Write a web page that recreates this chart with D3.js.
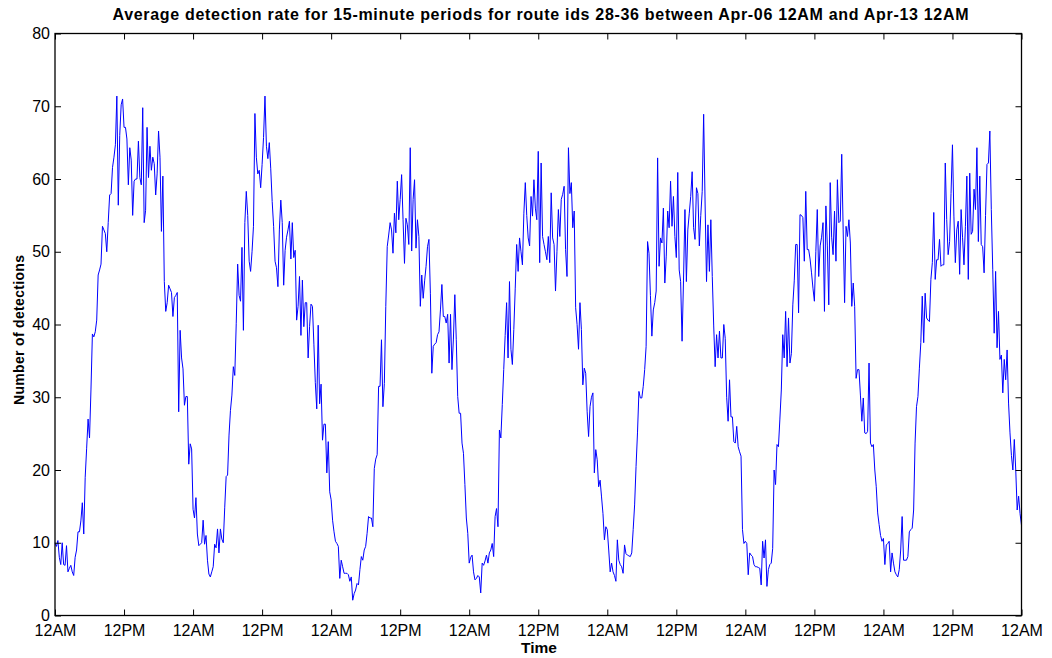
<!DOCTYPE html>
<html>
<head>
<meta charset="utf-8">
<script src="https://cdn.jsdelivr.net/npm/d3@7"></script>
<style>
  html, body { margin: 0; padding: 0; background: #fff; }
  svg { display: block; font-family: "Liberation Sans", Arial, Helvetica, sans-serif; }
</style>
</head>
<body>
<svg id="chart" width="1052" height="658"></svg>
<script>
// ---- Data: average detections per 15-minute period (96 per day) ----
const titleText = "Average detection rate for 15-minute periods for route ids 28-36 between Apr-06 12AM and Apr-13 12AM";
const xLabel = "Time";
const yLabel = "Number of detections";
const xTickHours = [0, 12, 24, 36, 48, 60, 72, 84, 96, 108, 120, 132, 144, 156, 168];
const xTickNames = ["12AM", "12PM"];
const yTicks = [0, 10, 20, 30, 40, 50, 60, 70, 80];

const day1 = [10, 9.5, 10.3, 8, 7, 10, 7, 6.9, 9.6, 6, 6.5, 6.9, 6, 5.5, 8, 9,
  11.5, 11.5, 13, 15.5, 11.2, 19, 23, 27, 24.4, 31, 38.7, 38.3, 39, 40.6, 46.8, 47.5,
  48.3, 53.5, 53, 52.5, 50, 54, 57.8, 58, 61.6, 63, 64.7, 71.4, 56.4, 66, 70.2, 71,
  67.1, 67.1, 65.5, 59.2, 64.3, 62.6, 55, 59.7, 60, 60, 65.2, 60.2, 59.2, 69.8, 54, 55.7,
  67.1, 60.2, 64.5, 61.2, 63, 62.1, 57.8, 60.7, 66.6, 63, 52.8, 60.4, 45.9, 41.8, 43, 45.4,
  44.9, 44.4, 41.1, 43.7, 44, 44.4, 28, 39.2, 35.4, 33.9, 28.9, 30.1, 30.1, 20.8, 23.6, 22.9];
const day2 = [14.6, 13.4, 16.2, 11.2, 9.6, 9.8, 10, 13.1, 9.8, 11, 7.6, 5.7, 5.3, 6, 6.7, 9.8,
  9.3, 11.9, 8.6, 11.9, 10.5, 10, 14.8, 19.1, 19.3, 24.8, 28.2, 30.3, 34.2, 33, 40.1, 48.3,
  44, 43.2, 50.6, 39.2, 54, 58.3, 55, 48.7, 47.3, 50, 53.5, 69, 63, 60.7, 61.2, 58.8,
  62, 65.7, 71.4, 64.5, 62.8, 65, 61.4, 56.9, 53.5, 48.7, 47.8, 45.2, 53, 57.1, 54, 45.4,
  50.2, 52, 53, 54.2, 49, 54, 49.2, 50.2, 40.6, 42.5, 46.6, 38.5, 46.1, 39.7, 43, 43,
  35.4, 39.7, 42.8, 42.5, 37.3, 32, 28.4, 39.9, 29.1, 31.8, 24.1, 26.3, 26.3, 19.6, 23.9, 17];
const day3 = [15.9, 13.1, 11.5, 10.2, 9.9, 9.5, 5.1, 7.6, 6.7, 5.8, 5.8, 5.8, 5.6, 4.7, 5.3, 2.1,
  3, 3.5, 4.4, 4.2, 6.3, 8.1, 7.6, 9, 9.5, 11.3, 13.6, 13.4, 13.4, 12.2, 20.2, 21.5,
  22.1, 31.5, 31.5, 37.9, 28.7, 31.9, 42.5, 50.7, 52.3, 54, 53, 49.8, 55.3, 52.6, 59.7, 54.4,
  57.2, 60.6, 54.4, 48.4, 54.6, 53.7, 51, 64.3, 50.1, 57.2, 59.9, 50.5, 54.4, 52.1, 42.5, 46.8,
  43.6, 46, 48, 50.7, 51.7, 44.3, 33.3, 37, 37.3, 37.5, 38.6, 39, 42, 45.5, 41.1, 41.1,
  40.2, 41.4, 34.7, 41.4, 33.8, 38, 44.1, 37.9, 30.1, 27.8, 27.8, 23.7, 22.3, 18, 13.4, 11.3];
const day4 = [7.2, 8, 8.3, 6, 4.9, 5.1, 5.5, 5.3, 3.1, 7.2, 6.9, 7.5, 8.3, 7.2, 8.6, 9,
  9.9, 8.1, 13.6, 14.7, 12.2, 25.5, 24.4, 29, 33.8, 38.5, 43, 35.4, 45.9, 36.6, 34.5, 39.3,
  45, 51, 47.3, 51.9, 50, 48.2, 55.3, 59.5, 55, 51.9, 50.8, 57.6, 54.9, 59.9, 56, 54.4,
  63.8, 48.5, 62.2, 52.1, 51, 50, 48.9, 52.1, 48.5, 58.1, 51.9, 51, 44.6, 50, 55.8, 52.1,
  57.2, 57.9, 59, 50.3, 46.6, 64.3, 58, 59.5, 53.3, 55.6, 42.3, 40, 36.6, 43, 39.3, 31.7,
  34, 33.3, 28, 24.6, 28.7, 30, 30.6, 19.6, 22.8, 21.4, 17.7, 18.6, 16.3, 14, 10.4, 12.2];
const day5 = [11.8, 9, 6, 7.2, 6, 5.5, 4.7, 10.4, 7.6, 7, 6.7, 5.8, 9.7, 8.5, 8.3, 8.2,
  8.1, 8.6, 11.8, 15.2, 20.5, 25.1, 30.8, 29.9, 29.9, 31.5, 33.8, 37, 51.4, 49.8, 44, 38.4,
  42, 43, 44.6, 62.9, 48, 51.9, 51.2, 56, 45.7, 49.4, 55.6, 53.3, 59.7, 53.5, 57.6, 52.1,
  49.2, 60.9, 47.5, 45.9, 37.7, 46.1, 55.8, 45.9, 53, 55.3, 57.6, 61, 53.3, 51.7, 58.8, 58,
  50.8, 55, 58.3, 68.9, 56.7, 45.9, 53.7, 47.3, 54.4, 46.6, 39.8, 34.2, 38.6, 35.4, 39.1, 35.4,
  35.4, 40, 38.1, 30, 26.7, 32.4, 27.3, 27.3, 23.9, 23.7, 26, 23.2, 22.5, 21.9, 11.8, 9.9];
const day6 = [10.2, 9.9, 5.6, 8.6, 8.3, 8.1, 7, 6.7, 6.7, 6.6, 6.5, 4.2, 10.2, 7.9, 10.4, 4,
  6.3, 7, 7.2, 9.2, 20, 18, 23.5, 23.2, 27, 31, 38.6, 35.4, 41.8, 34.2, 40.9, 34.7,
  36, 42.7, 46, 51, 51, 41.6, 55.1, 55, 54.7, 48.7, 58.3, 50.3, 50.3, 49, 47.1, 45,
  43.2, 50, 55.8, 46.6, 50.8, 52, 54, 41.8, 56.3, 50.8, 42.7, 59.5, 52, 49.6, 55.6, 48.7,
  59.9, 54, 54.2, 63.4, 53, 43, 53.5, 52.1, 54.4, 51.2, 42.5, 45.7, 42.5, 32.6, 33.8, 33.8,
  30.3, 26.7, 29.9, 25.1, 25, 25.3, 34.7, 23.7, 23.2, 23.5, 20, 17.7, 14.1, 12.5, 11, 10.2];
const day7 = [10.6, 7, 9.7, 9.9, 10.2, 6, 8.6, 7.2, 6, 5.6, 5.3, 6.3, 9, 13.6, 7.6, 7.6,
  7.6, 8.1, 11.5, 11.8, 12, 14.5, 23.7, 28.7, 30.1, 34, 37.5, 43.9, 37.5, 44.3, 40.9, 40.6,
  40.4, 46.2, 48.5, 55.4, 46.2, 48.9, 48.9, 51.7, 48, 48.2, 48.2, 62.2, 54.4, 49.6, 51.4, 58,
  64.7, 54.9, 48.5, 53, 54.2, 46.9, 55.8, 52, 48.2, 53.5, 60.4, 46.2, 60.8, 52.4, 52.8, 58.6,
  55.8, 64.3, 51.4, 60.4, 51, 50.7, 47.1, 55, 62, 62.2, 66.6, 55.8, 47.6, 38.8, 47.3, 36.8,
  41.8, 35.2, 35.8, 30.6, 35.2, 32.4, 36.5, 29.2, 25.1, 22, 20, 24.2, 20, 14.5, 16.4, 14,
  12.4];

const values = [].concat(day1, day2, day3, day4, day5, day6, day7);
const series = values.map((v, i) => ({ hour: i * 0.25, value: v }));

// ---- Layout ----
const svg = d3.select("#chart");
const margin = { left: 55, right: 1021.5, top: 33.5, bottom: 615.5 };

const x = d3.scaleLinear().domain([0, 168]).range([margin.left, margin.right]);
const y = d3.scaleLinear().domain([0, 80]).range([margin.bottom, margin.top]);

// Line
svg.append("path")
  .datum(series)
  .attr("fill", "none")
  .attr("stroke", "#0000ff")
  .attr("stroke-width", 1)
  .attr("stroke-linejoin", "round")
  .attr("d", d3.line().x(d => x(d.hour)).y(d => y(d.value)));

const fmtX = h => xTickNames[(h / 12) % 2];

function styleAxis(g, showText) {
  g.select(".domain").remove();
  g.selectAll(".tick line").attr("stroke", "#000").attr("stroke-width", 1);
  if (!showText) g.selectAll(".tick text").remove();
  else g.selectAll(".tick text").attr("fill", "#000").style("font-size", "16px")
    .style("font-family", '"Liberation Sans", Arial, sans-serif');
}

svg.append("g").attr("transform", `translate(0,${margin.bottom})`)
  .call(d3.axisBottom(x).tickValues(xTickHours).tickFormat(fmtX).tickSize(-6).tickPadding(3))
  .call(g => styleAxis(g, true))
  .call(g => g.selectAll(".tick text").attr("y", 20).attr("dy", null));

svg.append("g").attr("transform", `translate(0,${margin.top})`)
  .call(d3.axisTop(x).tickValues(xTickHours).tickSize(-6))
  .call(g => styleAxis(g, false));

svg.append("g").attr("transform", `translate(${margin.left},0)`)
  .call(d3.axisLeft(y).tickValues(yTicks).tickFormat(d3.format("d")).tickSize(-6).tickPadding(5))
  .call(g => styleAxis(g, true));

svg.append("g").attr("transform", `translate(${margin.right},0)`)
  .call(d3.axisRight(y).tickValues(yTicks).tickSize(-6))
  .call(g => styleAxis(g, false));

// Frame
svg.append("rect")
  .attr("x", margin.left).attr("y", margin.top)
  .attr("width", margin.right - margin.left).attr("height", margin.bottom - margin.top)
  .attr("fill", "none").attr("stroke", "#000").attr("stroke-width", 1.3);

// Title & labels
svg.append("text")
  .attr("x", 540.5).attr("y", 20)
  .attr("text-anchor", "middle")
  .attr("textLength", 856).attr("lengthAdjust", "spacing")
  .style("font-weight", "bold").style("font-size", "16px")
  .text(titleText);

svg.append("text")
  .attr("x", 539).attr("y", 653)
  .attr("text-anchor", "middle")
  .style("font-weight", "bold").style("font-size", "15.5px")
  .text(xLabel);

svg.append("text")
  .attr("transform", "translate(23.5,330) rotate(-90)")
  .attr("text-anchor", "middle")
  .attr("textLength", 150).attr("lengthAdjust", "spacing")
  .style("font-weight", "bold").style("font-size", "14px")
  .text(yLabel);
</script>
</body>
</html>
